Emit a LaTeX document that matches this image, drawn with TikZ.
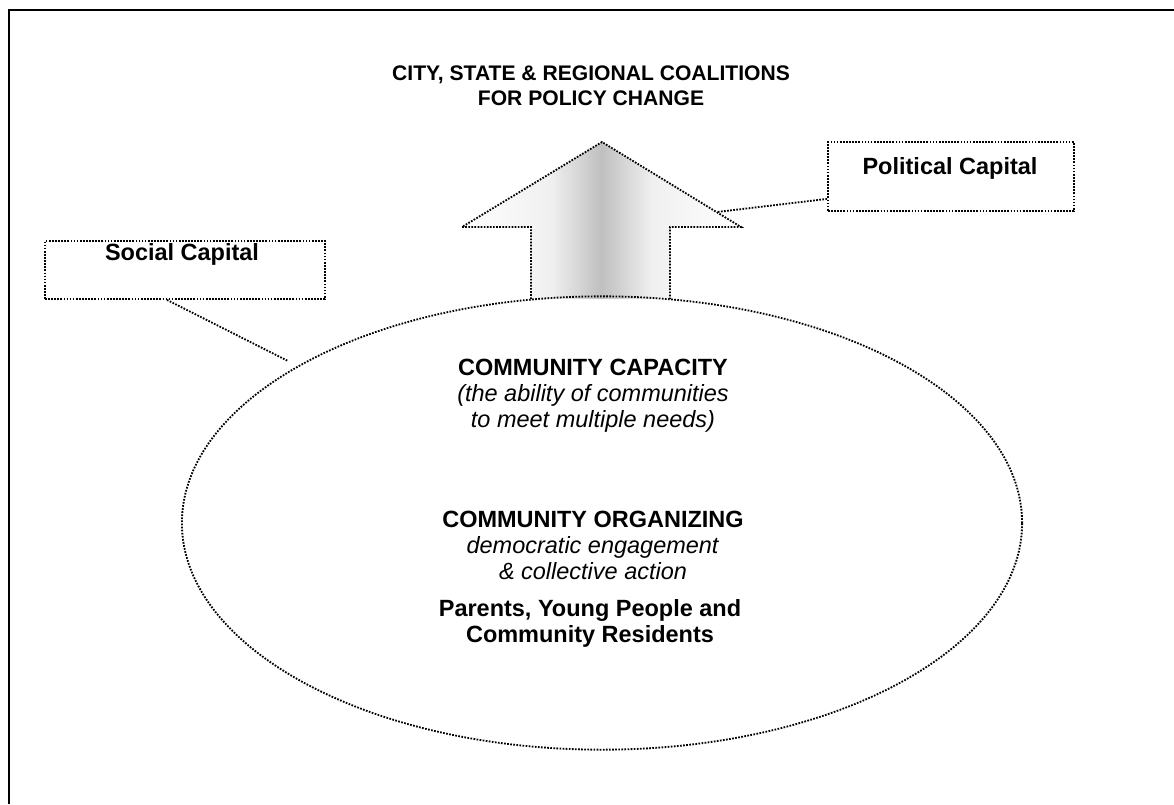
\documentclass[tikz,border=0pt]{standalone}
\usepackage{fontspec}
\setmainfont{Liberation Sans}
\usetikzlibrary{shapes.geometric,positioning}
\pgfdeclarehorizontalshading{stripe}{100bp}{color(0bp)=(white); color(25bp)=(white); color(41bp)=(white!88!gray); color(50bp)=(gray!50); color(59bp)=(white!88!gray); color(75bp)=(white); color(100bp)=(white)}
\begin{document}
\begin{tikzpicture}[x=0.025cm, y=-0.025cm,
    dots/.style={line width=1.3pt, dash pattern=on 1.2pt off 1pt},
    capbox/.style={draw, dots, rectangle, inner sep=0pt},
    txt/.style={font=\fontsize{16.7}{18.5}\selectfont, align=center, inner sep=0pt},
    headtxt/.style={font=\fontsize{15}{17.8}\selectfont\bfseries, align=center, inner sep=0pt}]
    \useasboundingbox (0,0) rectangle (1174,804);
    \draw[line width=1.7pt] (9,804) -- (9,10) -- (1174,10);
    % arrow up to the coalitions
    \shade[shading=stripe]
        (531,299) -- (531,227) -- (462,227) -- (602,142) -- (741,227) -- (670,227) -- (670,299) -- cycle;
    \draw[dots] (531,299) -- (531,227) -- (462,227) -- (602,142) -- (741,227) -- (670,227) -- (670,299);
    \node[headtxt] (title) at (591,86) {CITY, STATE \& REGIONAL COALITIONS\\FOR POLICY CHANGE};
    % the ellipse
    \node[draw, dots, ellipse, minimum width=21cm, minimum height=11.33cm, inner sep=0pt] (cap) at (602,523) {};
    \node[txt] (capacity) at (593,396) {\textbf{COMMUNITY CAPACITY}\\\textit{(the ability of communities}\\\textit{to meet multiple needs)}};
    \node[txt] (organizing) at (593,545) {\textbf{COMMUNITY ORGANIZING}\\\textit{democratic engagement}\\\textit{\& collective action}};
    \node[txt, font=\fontsize{16.7}{18.5}\selectfont\bfseries] (people) at (590,623) {Parents, Young People and\\Community Residents};
    % capital boxes
    \node[capbox, minimum width=7cm, minimum height=1.45cm] (social) at (185,270) {};
    \node[txt, font=\fontsize{16.7}{18.5}\selectfont\bfseries] (socialtxt) at (182,254) {Social Capital};
    \node[capbox, minimum width=6.15cm, minimum height=1.725cm] (political) at (951,176.5) {};
    \node[txt, font=\fontsize{16.7}{18.5}\selectfont\bfseries] (politicaltxt) at (950,168) {Political Capital};
    \coordinate (socialend) at (288,361);
    \coordinate (politicalend) at (717,212);
    \draw[dots] ([xshift=-0.45cm]social.south) -- (socialend);
    \draw[dots] ([yshift=-0.56cm]political.west) -- (politicalend);
\end{tikzpicture}
\end{document}
